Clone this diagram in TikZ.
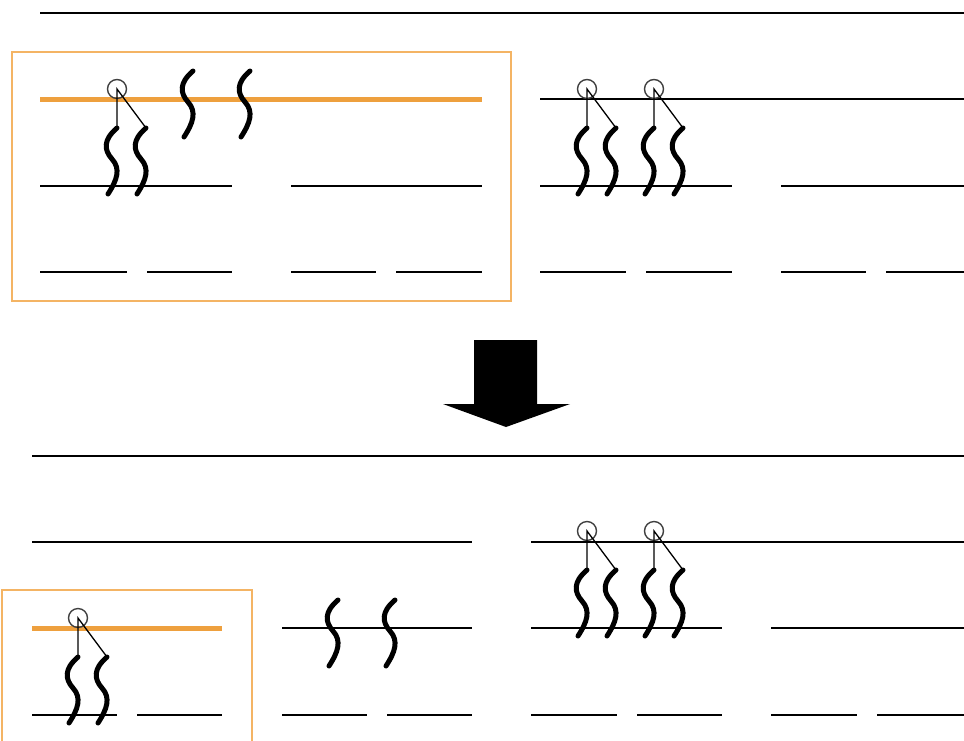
\documentclass[tikz,border=0pt]{standalone}
\usepackage{xcolor}
\usepackage{tikz}
\usetikzlibrary{positioning}
\definecolor{amber}{RGB}{238,160,62}
\definecolor{paleamber}{RGB}{244,180,100}

\begin{document}
\begin{tikzpicture}[x=1pt,y=-1pt]
\tikzset{
    rung/.style   = {line width=1.6pt},
    hot/.style    = {draw=amber, line width=5pt},
    frame/.style  = {draw=paleamber, line width=1.4pt},
    wig/.style    = {line width=5pt, line cap=round},
    knob/.style   = {circle, draw=black!75, line width=1.4pt, minimum size=19pt, inner sep=0pt},
    pics/wiggle/.style = {code={
        \draw[wig] (0,0) .. controls (-14,12) and (-13,22) .. (-5,31) .. controls (4,41) and (0,52) .. (-9,66);
    }},
    pics/tuft/.style = {code={
        \node[knob] (-k) at (0,-39) {};
        \coordinate (-a) at (0,0);
        \coordinate (-b) at (29,0);
        \draw[line width=1.3pt] (-a) -- (-k.center) -- (-b);
        \pic at (-a) {wiggle};
        \pic at (-b) {wiggle};
    }}
}
\useasboundingbox (0,0) rectangle (964,740);

% frames
\draw[frame] (12,52) rectangle (511,301);
\draw[frame] (2,590) rectangle (252,746);

% plain lines
\foreach \y/\a/\b in {13/40/964,
    186/40/232, 186/291/482, 272/40/127, 272/147/232, 272/291/376, 272/396/482,
    99/540/964, 186/540/732, 186/781/964,
    272/540/626, 272/646/732, 272/781/866, 272/886/964,
    456/32/964, 542/32/472, 542/531/964,
    628/282/472, 628/531/722, 628/771/964,
    715/32/117, 715/137/222, 715/282/367, 715/387/472,
    715/531/617, 715/637/722, 715/771/857, 715/877/964}
  \draw[rung] (\a,\y) -- (\b,\y);

% highlighted lines
\draw[hot] (40,99) -- (482,99);
\draw[hot] (32,628) -- (222,628);

% tufts
\pic (t1) at (117,128) {tuft};
\pic (t2) at (587,128) {tuft};
\pic (t3) at (654,128) {tuft};
\pic (t4) at (78,657) {tuft};
\pic (t5) at (587,570) {tuft};
\pic (t6) at (654,570) {tuft};

% loose wiggles
\pic at (193,71) {wiggle};
\pic at (250,71) {wiggle};
\pic at (338,600) {wiggle};
\pic at (395,600) {wiggle};

% arrow
\fill (474,340) -- (537,340) -- (537,404) -- (570,404) -- (506,427)
      -- (443,404) -- (474,404) -- cycle;
\end{tikzpicture}
\end{document}
